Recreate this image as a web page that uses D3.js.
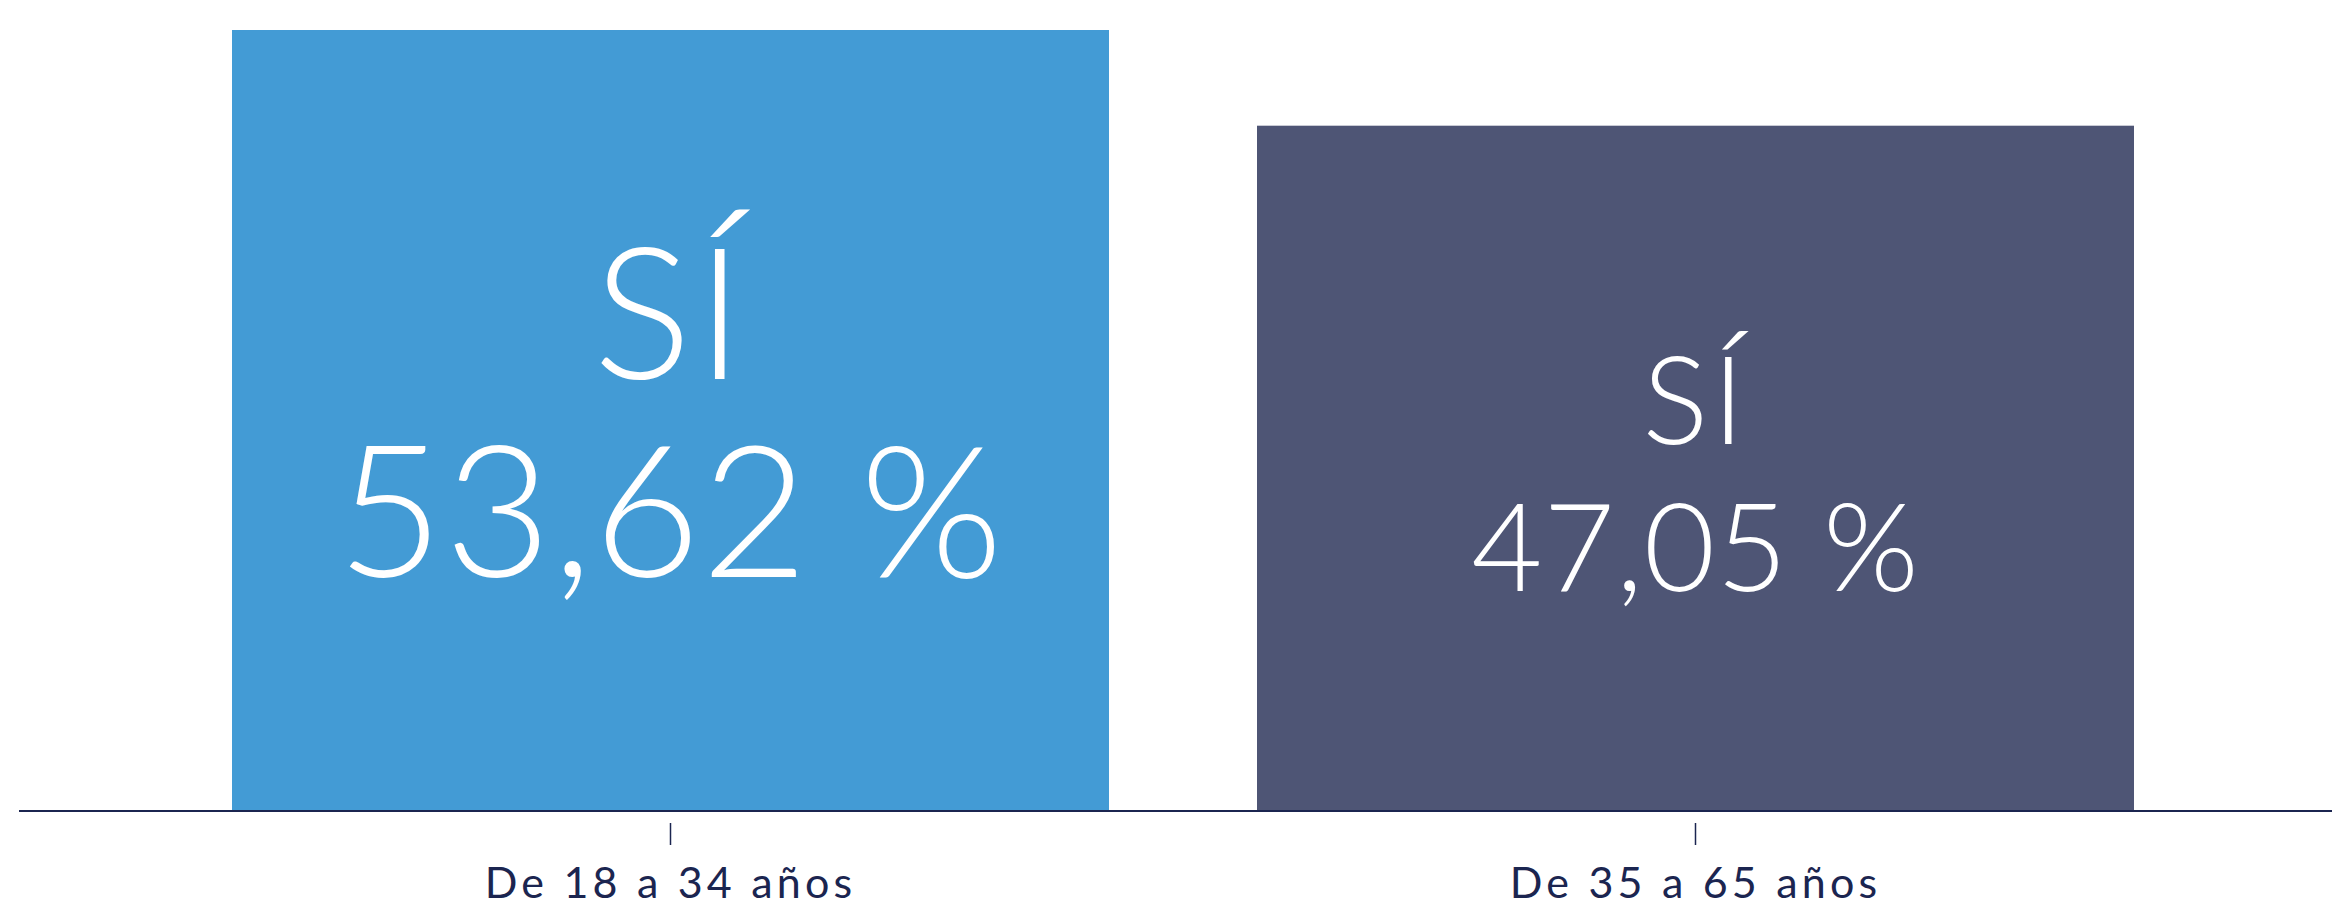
<!DOCTYPE html>
<html>
<head>
<meta charset="utf-8">
<script src="https://cdn.jsdelivr.net/npm/d3@7"></script>
<style>
  html, body { margin: 0; padding: 0; background: #ffffff; }
  svg { display: block; }
</style>
</head>
<body>
<svg id="chart" width="2332" height="908"></svg>
<script>
// ---- data ----
const categories = ["De 18 a 34 años", "De 35 a 65 años"];
const values = [53.62, 47.05];
const answerLabels = ["SÍ", "SÍ"];
const valueLabels = ["53,62 %", "47,05 %"];

// ---- styles ----
const barColors = ["#439bd5", "#4e5575"];
const navy = "#1b2550";
const valueFontSizes = [184, 123];
const firstLineOffsets = [-42, -24];   // baseline of first line relative to bar middle
const lineGaps = [198, 147];

const W = 2332, H = 908;
const baseY = 811;

const svg = d3.select("#chart");

const x = d3.scaleBand()
  .domain(categories)
  .range([158, 2208])
  .paddingInner(0.1444)
  .paddingOuter(0.0722);

const y = d3.scaleLinear()
  .domain([0, 55.68])
  .range([baseY, 0]);

const data = categories.map((c, i) => ({ c, v: values[i], a: answerLabels[i], l: valueLabels[i], i }));

// bars
svg.append("g").selectAll("rect")
  .data(data)
  .join("rect")
  .attr("x", d => x(d.c))
  .attr("y", d => y(d.v))
  .attr("width", x.bandwidth())
  .attr("height", d => y(0) - y(d.v))
  .attr("fill", d => barColors[d.i]);

// value labels (one text element with two lines)
const t = svg.append("g").selectAll("text")
  .data(data)
  .join("text")
  .attr("font-family", "Lato, 'Open Sans', sans-serif")
  .attr("font-weight", 300)
  .attr("fill", "#ffffff")
  .attr("text-anchor", "middle")
  .attr("font-size", d => valueFontSizes[d.i])
  .attr("y", d => (y(d.v) + baseY) / 2 + firstLineOffsets[d.i]);

t.append("tspan")
  .attr("x", d => x(d.c) + x.bandwidth() / 2)
  .attr("letter-spacing", 4)
  .text(d => d.a);

t.append("tspan")
  .attr("x", d => x(d.c) + x.bandwidth() / 2)
  .attr("dy", d => lineGaps[d.i])
  .attr("letter-spacing", 1)
  .text(d => d.l);

// baseline
svg.append("line")
  .attr("x1", 19).attr("x2", W)
  .attr("y1", baseY).attr("y2", baseY)
  .attr("stroke", navy)
  .attr("stroke-width", 2);

// axis ticks and labels
const axis = d3.axisBottom(x).tickSize(0).tickPadding(0);
const ag = svg.append("g")
  .attr("transform", `translate(0,${baseY})`)
  .call(axis);
ag.select(".domain").remove();
ag.selectAll(".tick line")
  .attr("y1", 12).attr("y2", 34)
  .attr("stroke", navy)
  .attr("stroke-width", 1.5);
ag.selectAll(".tick text")
  .attr("y", 87)
  .attr("dy", 0)
  .attr("fill", navy)
  .attr("font-family", "Lato, 'Open Sans', sans-serif")
  .attr("font-size", 43)
  .attr("font-weight", 400)
  .attr("letter-spacing", 4.2);
</script>
</body>
</html>
